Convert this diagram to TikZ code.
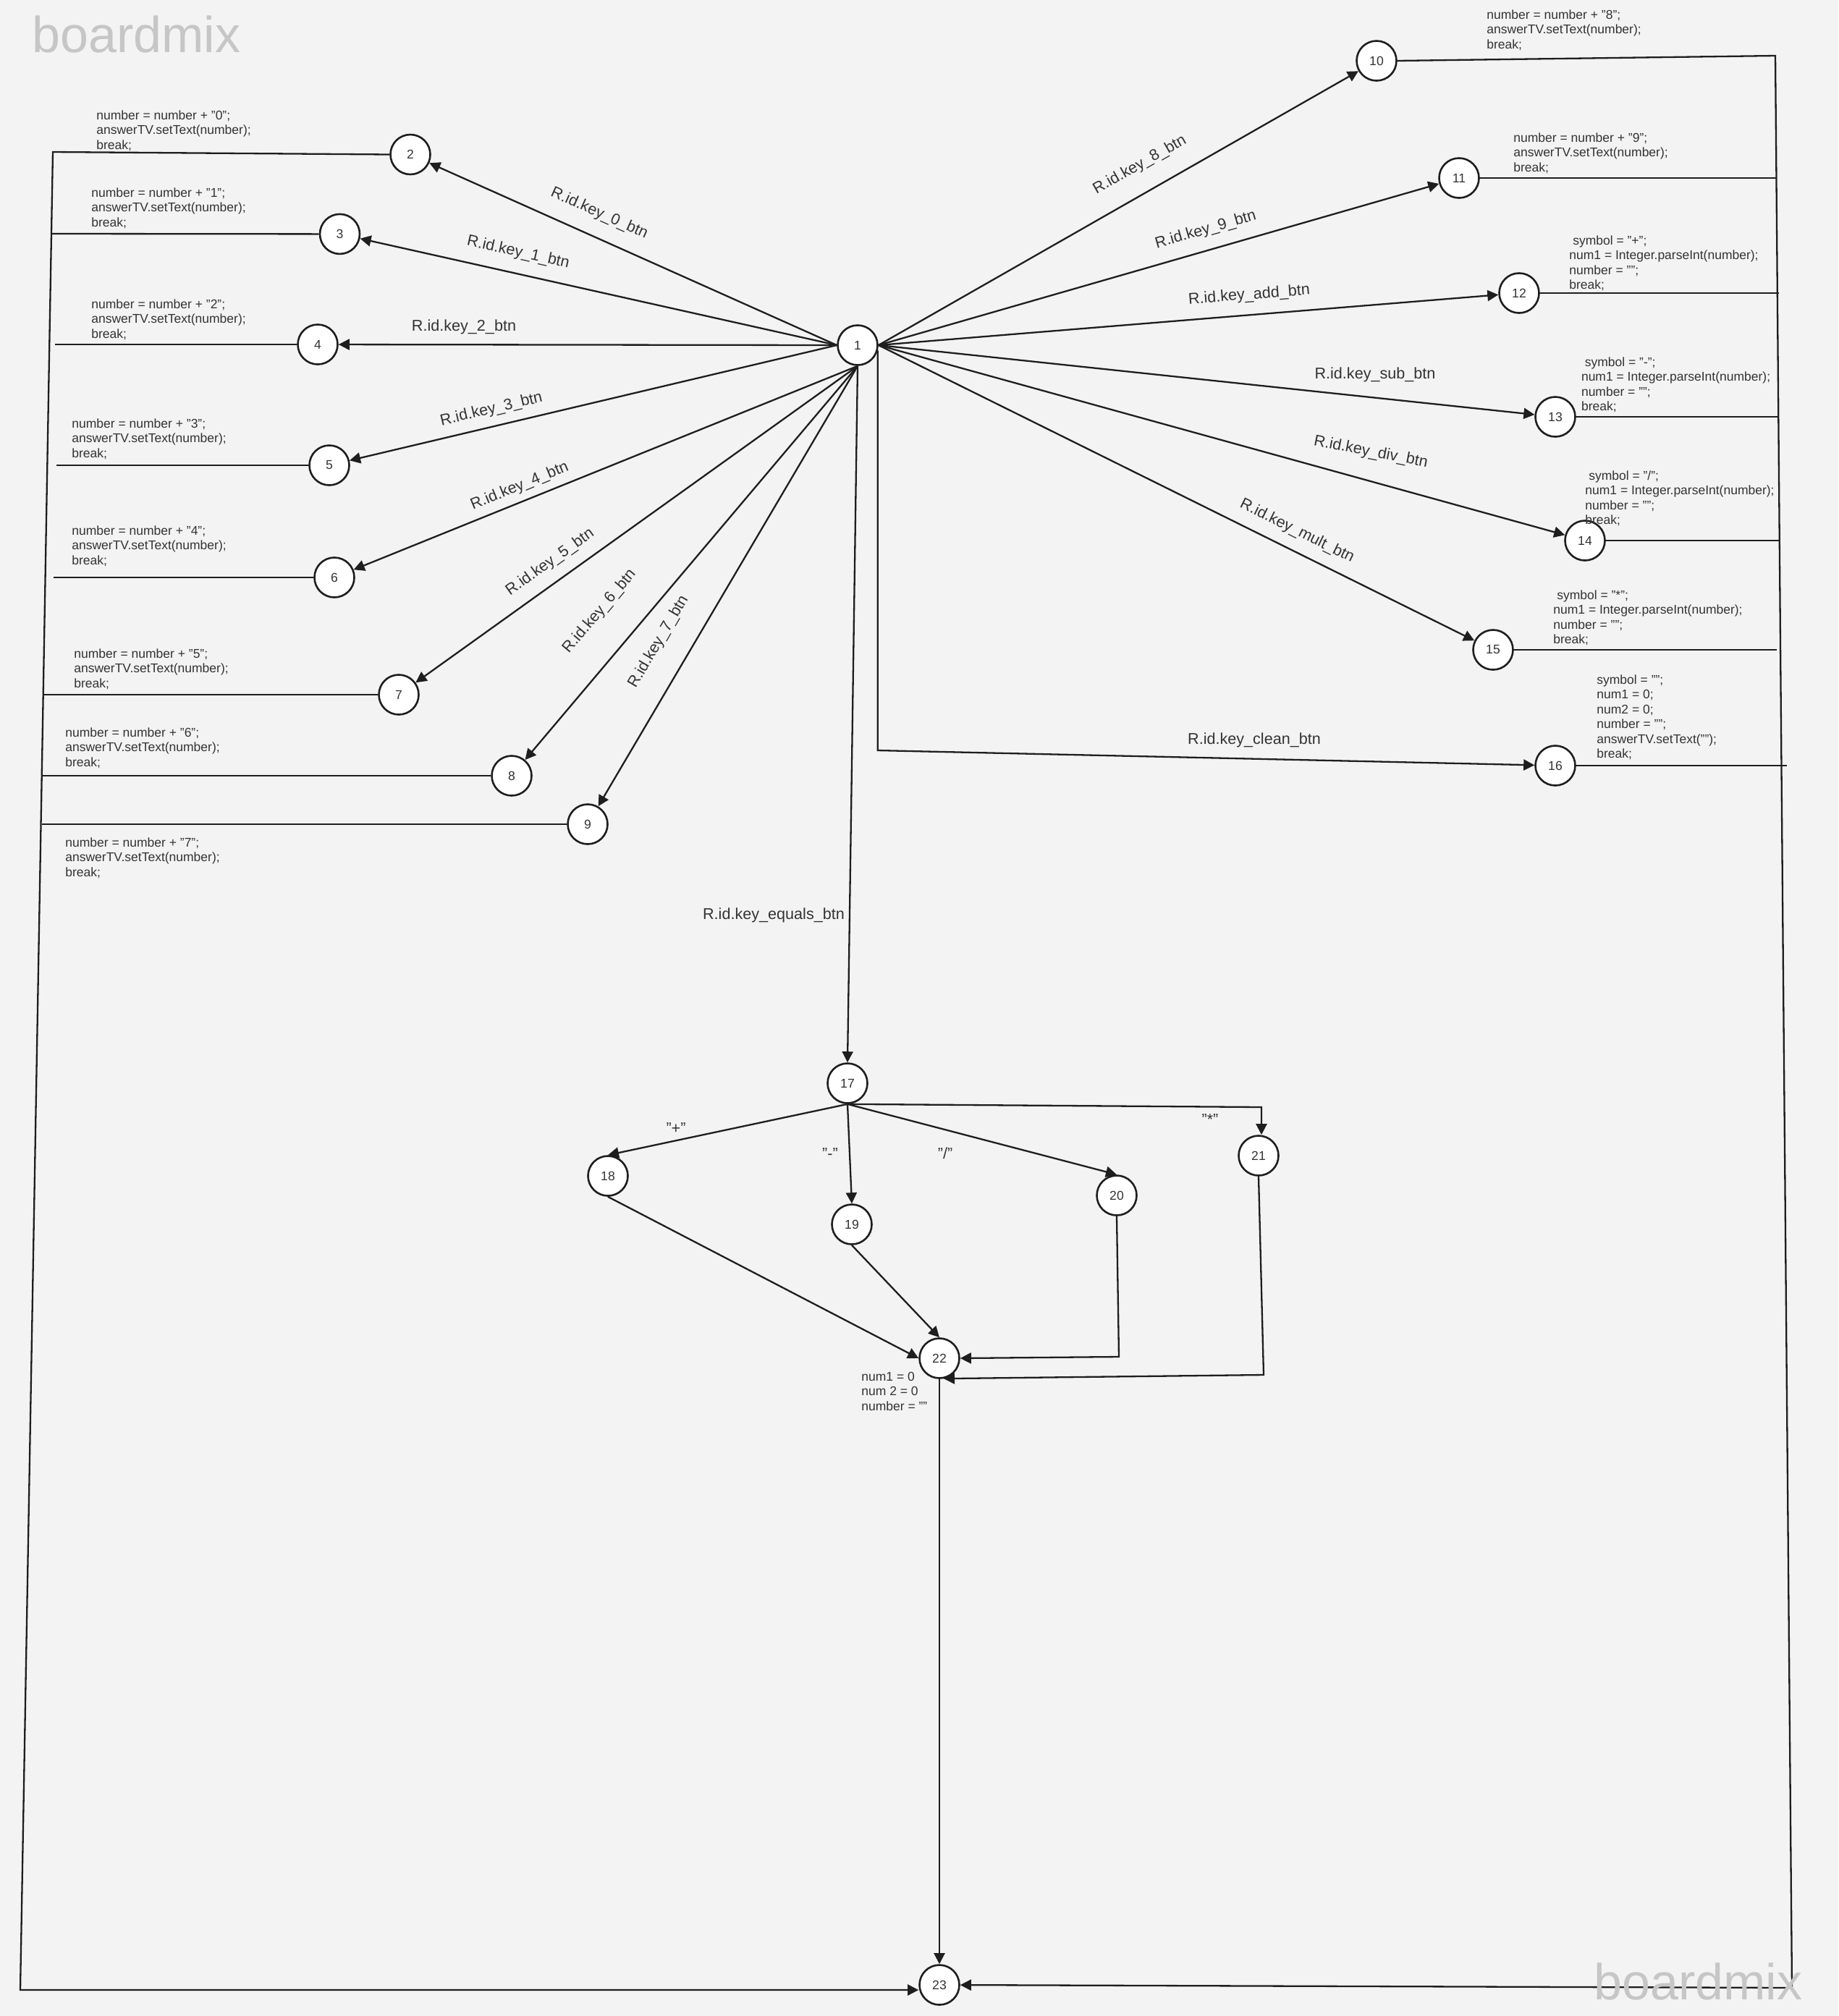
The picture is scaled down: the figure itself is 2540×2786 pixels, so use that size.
\documentclass[tikz,border=0pt]{standalone}
\usepackage{fontspec}
\setmainfont{Liberation Sans}
\usetikzlibrary{arrows.meta}
\definecolor{bg}{HTML}{F3F3F3}
\definecolor{ink}{HTML}{1E1E1E}
\definecolor{txt}{HTML}{333333}
\definecolor{wmc}{HTML}{C6C6C6}
\begin{document}
\begin{tikzpicture}[x=0.5pt,y=-0.5pt,
  st/.style={circle, draw=ink, line width=1.3pt, fill=white, minimum size=27.5pt, inner sep=0pt,
    font=\fontsize{8.8}{10}\selectfont, text=txt},
  arr/.style={draw=ink, line width=1.15pt, line join=miter, -{Triangle[length=7.5pt,width=7.5pt]}},
  ln/.style={draw=ink, line width=1.15pt},
  lab/.style={font=\fontsize{10.8}{13}\selectfont, text=txt, inner sep=0pt},
  code/.style={font=\fontsize{8.75}{10.25}\selectfont, text=txt, align=left, inner sep=0pt, anchor=north west},
  wmk/.style={font=\fontsize{35}{35}\selectfont, text=wmc, inner sep=0pt, anchor=base west}
]
\fill[bg] (0,0) rectangle (2540,2786);
\useasboundingbox (0,0) rectangle (2540,2786);

% states
\node[st] (n1) at (1185,477) {1};
\node[st] (n2) at (567,213.5) {2};
\node[st] (n3) at (469.5,323.4) {3};
\node[st] (n4) at (439,476) {4};
\node[st] (n5) at (455,643) {5};
\node[st] (n6) at (462,798) {6};
\node[st] (n7) at (551,960) {7};
\node[st] (n8) at (707,1072) {8};
\node[st] (n9) at (812,1139) {9};
\node[st] (n10) at (1902,84) {10};
\node[st] (n11) at (2016,246) {11};
\node[st] (n12) at (2099,405) {12};
\node[st] (n13) at (2149,576) {13};
\node[st] (n14) at (2190,747) {14};
\node[st] (n15) at (2063,898) {15};
\node[st] (n16) at (2149,1058) {16};
\node[st] (n17) at (1171,1497) {17};
\node[st] (n18) at (840,1625) {18};
\node[st] (n19) at (1177,1692) {19};
\node[st] (n20) at (1543,1652) {20};
\node[st] (n21) at (1739,1597) {21};
\node[st] (n22) at (1298,1877) {22};
\node[st] (n23) at (1298,2743) {23};

% helper coordinates
\coordinate (L2) at (73,210);
\coordinate (L3) at (72,323);
\coordinate (L4) at (76,476);
\coordinate (L5) at (78,643);
\coordinate (L6) at (74,798);
\coordinate (L7) at (60,960);
\coordinate (L8) at (58,1072);
\coordinate (L9) at (58,1139);
\coordinate (LB) at (28,2750);
\coordinate (R10) at (2453,77);
\coordinate (R11) at (2454,246);
\coordinate (R12) at (2458,405);
\coordinate (R13) at (2458,576);
\coordinate (R14) at (2458,747);
\coordinate (R15) at (2455,898);
\coordinate (R16) at (2469,1058);
\coordinate (RB) at (2476,2747);
\coordinate (K16) at (1212,1037);
\coordinate (K21) at (1743,1530);
\coordinate (K20) at (1546,1875);
\coordinate (K21b) at (1746,1900);

% edges from 1
\draw[arr] (n1.west) -- (n2);
\draw[arr] (n1.west) -- (n3);
\draw[arr] (n1.west) -- (n4);
\draw[arr] (n1.west) -- (n5);
\draw[arr] (n1.south) -- (n6);
\draw[arr] (n1.south) -- (n7);
\draw[arr] (n1.south) -- (n8);
\draw[arr] (n1.south) -- (n9);
\draw[arr] (n1.east) -- (n10);
\draw[arr] (n1.east) -- (n11);
\draw[arr] (n1.east) -- (n12);
\draw[arr] (n1.east) -- (n13);
\draw[arr] (n1.east) -- (n14);
\draw[arr] (n1.east) -- (n15);
\draw[arr] (n1.-15) -- (n1.-15 |- K16) -- (n16);
\draw[arr] (n1.south) -- (n17.north);

% left returns
\draw[arr] (n2.west) -- (L2) -- (LB) -- (n23.west |- LB);
\draw[ln] (n3.west) -- (L3);
\draw[ln] (n4.west) -- (L4);
\draw[ln] (n5.west) -- (L5);
\draw[ln] (n6.west) -- (L6);
\draw[ln] (n7.west) -- (L7);
\draw[ln] (n8.west) -- (L8);
\draw[ln] (n9.west) -- (L9);

% right returns
\draw[arr] (n10.east) -- (R10) -- (RB) -- (n23);
\draw[ln] (n11.east) -- (R11);
\draw[ln] (n12.east) -- (R12);
\draw[ln] (n13.east) -- (R13);
\draw[ln] (n14.east) -- (R14);
\draw[ln] (n15.east) -- (R15);
\draw[ln] (n16.east) -- (R16);

% equals branch
\draw[arr] (n17.south) -- (n18.north);
\draw[arr] (n17.south) -- (n19.north);
\draw[arr] (n17.south) -- (n20.north);
\draw[arr] (n17.south) -- (K21) -- (K21 |- n21.north);
\draw[arr] (n18.south) -- (n22.west);
\draw[arr] (n19.south) -- (n22.north);
\draw[arr] (n20.south) -- (K20) -- (n22.east);
\draw[arr] (n21.south) -- (K21b) -- (n22.-78);
\draw[arr] (n22.south) -- (n23.north);

% edge labels
\node[lab, rotate=-24.1] (l0) at (828,295) {R.id.key\_0\_btn};
\node[lab, rotate=-12.6] (l1) at (716,349) {R.id.key\_1\_btn};
\node[lab] (l2) at (641,452) {R.id.key\_2\_btn};
\node[lab, rotate=13.3] (l3) at (679,566) {R.id.key\_3\_btn};
\node[lab, rotate=22.5] (l4) at (718,672) {R.id.key\_4\_btn};
\node[lab, rotate=35.7] (l5) at (760,777) {R.id.key\_5\_btn};
\node[lab, rotate=49.9] (l6) at (829,845) {R.id.key\_6\_btn};
\node[lab, rotate=59.6] (l7) at (910,887) {R.id.key\_7\_btn};
\node[lab, rotate=29.7] (l8) at (1575,228) {R.id.key\_8\_btn};
\node[lab, rotate=16.0] (l9) at (1666,318) {R.id.key\_9\_btn};
\node[lab, rotate=4.6] (ladd) at (1726,408) {R.id.key\_add\_btn};
\node[lab] (lsub) at (1900,518) {R.id.key\_sub\_btn};
\node[lab, rotate=-11] (ldiv) at (1894,625) {R.id.key\_div\_btn};
\node[lab, rotate=-26.3] (lmult) at (1792,734) {R.id.key\_mult\_btn};
\node[lab] (lclean) at (1733,1023) {R.id.key\_clean\_btn};
\node[lab] (leq) at (1069,1265) {R.id.key\_equals\_btn};

\node[lab] (lplus) at (934,1559) {"+"};
\node[lab] (lminus) at (1147,1594) {"-"};
\node[lab] (ldivide) at (1306,1594) {"/"};
\node[lab] (ltimes) at (1672,1547) {"*"};

% code texts
\node[code] (t0) at (133,152) {number = number + "0";\\answerTV.setText(number);\\break;};
\node[code] (t1) at (126,259) {number = number + "1";\\answerTV.setText(number);\\break;};
\node[code] (t2) at (126,413) {number = number + "2";\\answerTV.setText(number);\\break;};
\node[code] (t3) at (99,578) {number = number + "3";\\answerTV.setText(number);\\break;};
\node[code] (t4) at (99,726) {number = number + "4";\\answerTV.setText(number);\\break;};
\node[code] (t5) at (102,896) {number = number + "5";\\answerTV.setText(number);\\break;};
\node[code] (t6) at (90,1005) {number = number + "6";\\answerTV.setText(number);\\break;};
\node[code] (t7) at (90,1157) {number = number + "7";\\answerTV.setText(number);\\break;};
\node[code] (t8) at (2054,13) {number = number + "8";\\answerTV.setText(number);\\break;};
\node[code] (t9) at (2091,183) {number = number + "9";\\answerTV.setText(number);\\break;};
\node[code] (tadd) at (2168,325) {\ symbol = "+";\\num1 = Integer.parseInt(number);\\number = "";\\break;};
\node[code] (tsub) at (2184.6,493) {\ symbol = "-";\\num1 = Integer.parseInt(number);\\number = "";\\break;};
\node[code] (tdiv) at (2190,650) {\ symbol = "/";\\num1 = Integer.parseInt(number);\\number = "";\\break;};
\node[code] (tmul) at (2146,815) {\ symbol = "*";\\num1 = Integer.parseInt(number);\\number = "";\\break;};
\node[code] (tclr) at (2206,932) {symbol = "";\\num1 = 0;\\num2 = 0;\\number = "";\\answerTV.setText("");\\break;};
\node[code] (t22) at (1190,1895.5) {num1 = 0\\num 2 = 0\\number = ""};

% watermarks
\node[wmk] (wm1) at (44,72.6) {boardmix};
\node[wmk] (wm2) at (2202,2763) {boardmix};
\end{tikzpicture}
\end{document}
